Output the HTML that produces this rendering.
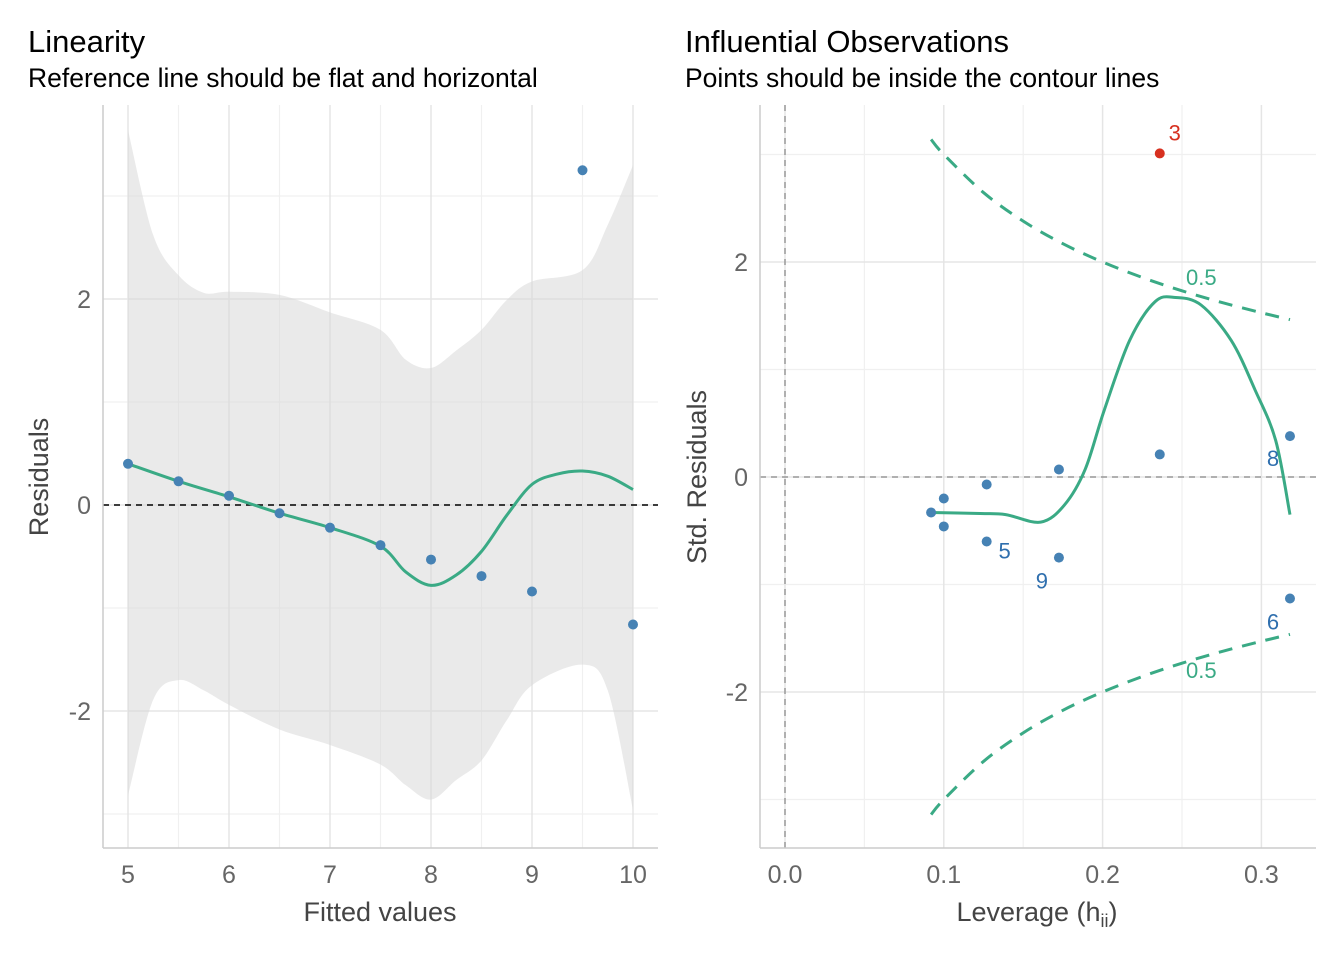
<!DOCTYPE html>
<html><head><meta charset="utf-8"><style>
body{margin:0;background:#fff;}
svg text{font-family:"Liberation Sans",Arial,sans-serif;}
</style></head><body>
<svg id="c" width="1344" height="960" xmlns="http://www.w3.org/2000/svg">
<text x="28" y="52" font-size="31" fill="#000">Linearity</text>
<text x="28" y="87" font-size="26.5" fill="#000">Reference line should be flat and horizontal</text>
<text x="685" y="52" font-size="31" fill="#000">Influential Observations</text>
<text x="685" y="87" font-size="26.5" fill="#000">Points should be inside the contour lines</text>
<g id="L"></g><g id="R"></g>
</svg>
<script>
// Left panel data
const fitted=[5,5.5,6,6.5,7,7.5,8,8.5,9,9.5,10];
const resid=[0.40,0.23,0.09,-0.08,-0.22,-0.39,-0.53,-0.69,-0.84,3.25,-1.16];
const smoothX=[5,5.5,6,6.5,7,7.5,7.75,8,8.25,8.5,8.75,9,9.25,9.5,9.75,10];
const smoothY=[0.40,0.23,0.08,-0.08,-0.22,-0.40,-0.65,-0.78,-0.68,-0.45,-0.1,0.2,0.3,0.33,0.28,0.15];
const bandX=[5,5.25,5.5,5.75,6,6.5,7,7.5,7.75,8,8.25,8.5,8.75,9,9.5,9.75,10];
const bandHi=[3.64,2.62,2.23,2.06,2.07,2.04,1.87,1.70,1.41,1.33,1.5,1.7,1.99,2.17,2.28,2.72,3.3];
const bandLo=[-2.82,-1.89,-1.70,-1.8,-1.94,-2.18,-2.33,-2.52,-2.72,-2.86,-2.67,-2.48,-2.09,-1.75,-1.55,-1.8,-2.96];
const leftXTicks=[5,6,7,8,9,10];
const leftYTicks=[-2,0,2];
// Right panel data
const lev=[0.092,0.100,0.100,0.127,0.127,0.1725,0.1725,0.236,0.236,0.318,0.318];
const stdRes=[-0.33,-0.20,-0.46,-0.07,-0.60,0.07,-0.75,0.21,3.01,0.38,-1.13];
const ptLabels=["","","","","5","","9","","3","8","6"];
const infl=[false,false,false,false,false,false,false,false,true,false,false];
const rSmoothX=[0.092,0.123,0.139,0.161,0.176,0.189,0.201,0.217,0.233,0.246,0.262,0.281,0.296,0.309,0.318];
const rSmoothY=[-0.33,-0.34,-0.35,-0.42,-0.26,0.07,0.62,1.27,1.63,1.67,1.60,1.27,0.81,0.34,-0.35];
const contH=[0.092,0.1,0.125,0.15,0.175,0.2,0.225,0.25,0.275,0.3,0.318];
const contV=[3.14,3.0,2.646,2.38,2.17,2.0,1.856,1.732,1.624,1.528,1.464];
const rightXTicks=[0.0,0.1,0.2,0.3];
const rightYTicks=[-2,0,2];

const NS="http://www.w3.org/2000/svg";
function mk(p,t,a){const e=document.createElementNS(NS,t);for(const k in a)e.setAttribute(k,a[k]);p.appendChild(e);return e;}
function spline(pts,start){let d=start?('M'+pts[0][0]+','+pts[0][1]):('L'+pts[0][0]+','+pts[0][1]);
for(let i=0;i<pts.length-1;i++){const p0=pts[Math.max(0,i-1)],p1=pts[i],p2=pts[i+1],p3=pts[Math.min(pts.length-1,i+2)];
const c1=[p1[0]+(p2[0]-p0[0])/6,p1[1]+(p2[1]-p0[1])/6],c2=[p2[0]-(p3[0]-p1[0])/6,p2[1]-(p3[1]-p1[1])/6];
d+='C'+c1[0]+','+c1[1]+' '+c2[0]+','+c2[1]+' '+p2[0]+','+p2[1];}return d;}
const GREEN="#3aaa85",BLUE="#4682b4";

// LEFT
const L=document.getElementById('L');
const lx=v=>128+(v-5)*101, ly=v=>505-v*103;
[-3,-1,1,3].forEach(v=>{const e=mk(L,'line',{x1:103,x2:658,y1:ly(v),y2:ly(v),stroke:'#f0f0f0','stroke-width':1.2});
});
[5.5,6.5,7.5,8.5,9.5].forEach(v=>{const e=mk(L,'line',{x1:lx(v),x2:lx(v),y1:105,y2:848,stroke:'#f0f0f0','stroke-width':1.2});
});
leftYTicks.forEach(v=>{const e=mk(L,'line',{x1:103,x2:658,y1:ly(v),y2:ly(v),stroke:'#e5e5e5','stroke-width':1.5});

const t=mk(L,'text',{x:91,y:ly(v)+9,'font-size':25,fill:'#666','text-anchor':'end'});t.textContent=v;
});
leftXTicks.forEach(v=>{const e=mk(L,'line',{x1:lx(v),x2:lx(v),y1:105,y2:848,stroke:'#e5e5e5','stroke-width':1.5});

const t=mk(L,'text',{x:lx(v),y:883,'font-size':25,fill:'#666','text-anchor':'middle'});t.textContent=v;
});
const hiPts=bandX.map((x,i)=>[lx(x),ly(bandHi[i])]);
const loPts=bandX.map((x,i)=>[lx(x),ly(bandLo[i])]).reverse();
const band=mk(L,'path',{d:spline(hiPts,true)+spline(loPts,false)+'Z',fill:'#d9d9d9','fill-opacity':0.55});

const zl=mk(L,'line',{x1:103,x2:658,y1:ly(0),y2:ly(0),stroke:'#000','stroke-width':1.5,'stroke-dasharray':'6,5'});

const sl=mk(L,'path',{d:spline(smoothX.map((x,i)=>[lx(x),ly(smoothY[i])]),true),fill:'none',stroke:GREEN,'stroke-width':3,'stroke-linejoin':'round'});

fitted.forEach((x,i)=>{const c=mk(L,'circle',{cx:lx(x),cy:ly(resid[i]),r:5,fill:BLUE});
});
let t=mk(L,'text',{x:380,y:921,'font-size':27,fill:'#444','text-anchor':'middle'});t.textContent='Fitted values';

t=mk(L,'text',{x:0,y:0,'font-size':27,fill:'#444','text-anchor':'middle',transform:'translate(48,477) rotate(-90)'});t.textContent='Residuals';

let ax=mk(L,'line',{x1:103,x2:103,y1:105,y2:848,stroke:'#ccc','stroke-width':1.5});
ax=mk(L,'line',{x1:103,x2:658,y1:848,y2:848,stroke:'#ccc','stroke-width':1.5});

// RIGHT
const R=document.getElementById('R');
const rx=v=>785+v*1588, ry=v=>477-v*107.5;
[-3,-1,1,3].forEach(v=>{const e=mk(R,'line',{x1:760,x2:1316,y1:ry(v),y2:ry(v),stroke:'#f0f0f0','stroke-width':1.2});
});
[0.05,0.15,0.25].forEach(v=>{const e=mk(R,'line',{x1:rx(v),x2:rx(v),y1:105,y2:848,stroke:'#f0f0f0','stroke-width':1.2});
});
rightYTicks.forEach(v=>{const e=mk(R,'line',{x1:760,x2:1316,y1:ry(v),y2:ry(v),stroke:'#e5e5e5','stroke-width':1.5});

const t=mk(R,'text',{x:748,y:ry(v)+9,'font-size':25,fill:'#666','text-anchor':'end'});t.textContent=v;
});
rightXTicks.forEach(v=>{const e=mk(R,'line',{x1:rx(v),x2:rx(v),y1:105,y2:848,stroke:'#e5e5e5','stroke-width':1.5});

const t=mk(R,'text',{x:rx(v),y:883,'font-size':25,fill:'#666','text-anchor':'middle'});t.textContent=v.toFixed(1);
});
let e=mk(R,'line',{x1:rx(0),x2:rx(0),y1:105,y2:848,stroke:'#999','stroke-width':1.5,'stroke-dasharray':'6,5'});

e=mk(R,'line',{x1:760,x2:1316,y1:ry(0),y2:ry(0),stroke:'#999','stroke-width':1.5,'stroke-dasharray':'6,5'});

[1,-1].forEach(s=>{const p=mk(R,'path',{d:spline(contH.map((h,i)=>[rx(h),ry(s*contV[i])]),true),fill:'none',stroke:GREEN,'stroke-width':3,'stroke-dasharray':'14,10'});

const t=mk(R,'text',{x:1186,y:s>0?285:678,'font-size':22,fill:GREEN});t.textContent='0.5';
});
e=mk(R,'path',{d:spline(rSmoothX.map((x,i)=>[rx(x),ry(rSmoothY[i])]),true),fill:'none',stroke:GREEN,'stroke-width':3,'stroke-linejoin':'round'});

const lblOff={"5":[18,10],"9":[-17,24],"3":[15,-20],"8":[-17,23],"6":[-17,24]};
lev.forEach((h,i)=>{const col=infl[i]?'#d7301f':BLUE;
const c=mk(R,'circle',{cx:rx(h),cy:ry(stdRes[i]),r:5,fill:col});

if(ptLabels[i]){const o=lblOff[ptLabels[i]];const t=mk(R,'text',{x:rx(h)+o[0],y:ry(stdRes[i])+o[1]+7,'font-size':22,fill:infl[i]?'#d7301f':'#2f6fae','text-anchor':'middle'});
t.textContent=ptLabels[i];}});
t=mk(R,'text',{x:1037,y:921,'font-size':27,fill:'#444','text-anchor':'middle'});
t.innerHTML='Leverage (h<tspan font-size="18" dy="6">ii</tspan><tspan dy="-6">)</tspan>';

t=mk(R,'text',{x:0,y:0,'font-size':27,fill:'#444','text-anchor':'middle',transform:'translate(706,477) rotate(-90)'});t.textContent='Std. Residuals';

ax=mk(R,'line',{x1:760,x2:760,y1:105,y2:848,stroke:'#ccc','stroke-width':1.5});
ax=mk(R,'line',{x1:760,x2:1316,y1:848,y2:848,stroke:'#ccc','stroke-width':1.5});
</script>
</body></html>
